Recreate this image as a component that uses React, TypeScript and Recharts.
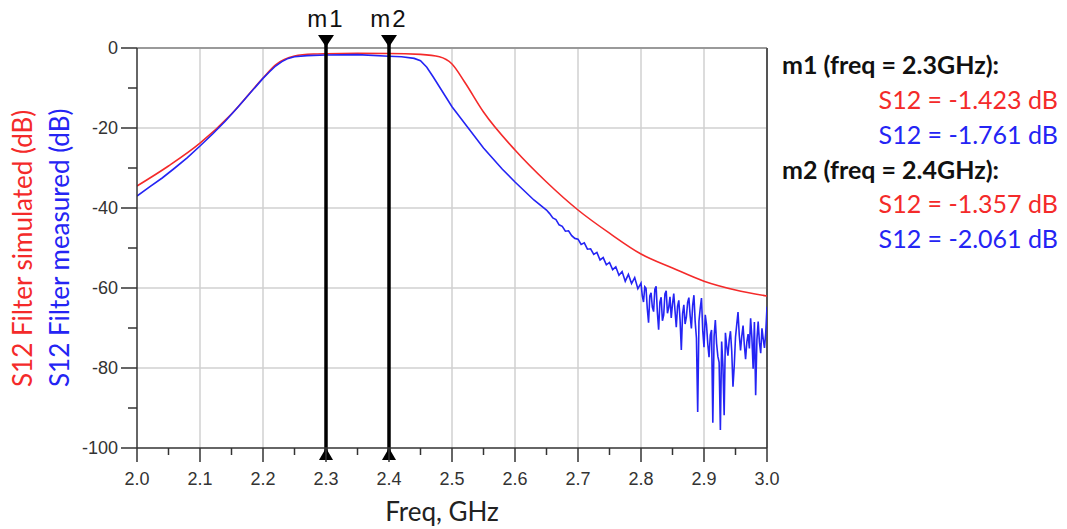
import React from "react";
import { LineChart, Line, XAxis, YAxis, ReferenceLine } from "recharts";

// x ticks every 0.05 GHz, labels only on the 0.1 steps
const freqTicks = [2.0, 2.05, 2.1, 2.15, 2.2, 2.25, 2.3, 2.35, 2.4, 2.45, 2.5, 2.55, 2.6, 2.65, 2.7, 2.75, 2.8, 2.85, 2.9, 2.95, 3.0];
const freqGrid = [2.1, 2.2, 2.3, 2.4, 2.5, 2.6, 2.7, 2.8, 2.9];
const dbTicks = [0, -10, -20, -30, -40, -50, -60, -70, -80, -90, -100];
const dbGrid = [-20, -40, -60, -80];

// simulated S12 (smooth)
const simFreq = [2.0, 2.05, 2.1, 2.15, 2.2, 2.22, 2.25, 2.28, 2.3, 2.35, 2.4, 2.45, 2.48, 2.5, 2.52, 2.55, 2.6, 2.65, 2.7, 2.75, 2.8, 2.85, 2.9, 2.95, 3.0];
const simDb = [-34.5, -29.5, -23.8, -16.5, -7.5, -4.2, -2.0, -1.5, -1.42, -1.35, -1.36, -1.6, -2.2, -4.0, -8.5, -16, -25.5, -33.5, -40.5, -46.3, -51.5, -55, -58.3, -60.5, -62];

// measured S12, pass band and upper skirt
const measFreq = [
  2.0, 2.02, 2.04, 2.06, 2.08, 2.1, 2.12, 2.14, 2.16, 2.18, 2.2, 2.21, 2.22, 2.23, 2.24, 2.25, 2.27, 2.3, 2.35, 2.4,
  2.42, 2.44, 2.45, 2.46, 2.47, 2.48, 2.49, 2.5, 2.52, 2.55, 2.58, 2.6, 2.63, 2.65, 2.655, 2.66, 2.665, 2.67, 2.675,
  2.68, 2.685, 2.69, 2.695, 2.7, 2.705, 2.71, 2.715, 2.72, 2.725, 2.73, 2.735, 2.74, 2.745, 2.75, 2.755, 2.76, 2.765,
  2.77, 2.775, 2.78, 2.785, 2.79, 2.795,
];
const measDb = [
  -37, -34.7, -32.5, -30, -27.4, -24.5, -21.5, -18.3, -14.8, -11.2, -7.6, -6, -4.5, -3.4, -2.6, -2.2, -1.9, -1.76, -1.65, -2.06,
  -2.2, -2.6, -3.2, -4.8, -7.2, -9.7, -12.2, -14.7, -18.8, -25, -30.3, -33.5, -38, -40.5, -41.4, -42.5, -42.9, -44.2, -44.6,
  -45.8, -45.7, -46.9, -47.6, -47.8, -49.1, -48.7, -50.3, -50.2, -51.6, -51.1, -53.0, -52.4, -54.2, -53.6, -55.4, -54.7, -56.8,
  -55.9, -58.3, -56.6, -58.9, -57.4, -60.2,
];

// measured S12, noisy stop band
const noiseFreq = [
  2.8, 2.802, 2.804, 2.806, 2.808, 2.81, 2.812, 2.814, 2.816, 2.818, 2.82, 2.822, 2.824, 2.826, 2.828, 2.83, 2.832, 2.834,
  2.836, 2.838, 2.84, 2.842, 2.844, 2.846, 2.848, 2.85, 2.852, 2.854, 2.856, 2.858, 2.86, 2.862, 2.864, 2.866, 2.868, 2.87,
  2.872, 2.874, 2.876, 2.878, 2.88, 2.882, 2.884, 2.886, 2.888, 2.89, 2.892, 2.894, 2.896, 2.898, 2.9, 2.902, 2.904, 2.906,
  2.908, 2.91, 2.912, 2.914, 2.916, 2.918, 2.92, 2.922, 2.924, 2.926, 2.928, 2.93, 2.932, 2.934, 2.936, 2.938, 2.94, 2.942,
  2.944, 2.946, 2.948, 2.95, 2.952, 2.954, 2.956, 2.958, 2.96, 2.962, 2.964, 2.966, 2.968, 2.97, 2.972, 2.974, 2.976, 2.978,
  2.98, 2.982, 2.984, 2.986, 2.988, 2.99, 2.992, 2.994, 2.996, 2.998, 3.0,
];
const noiseDb = [
  -58.8, -61.9, -63.5, -59.7, -60.1, -65.2, -68.7, -62.0, -61.2, -64.8, -65.9, -60.3, -59.6, -66.1, -70.4, -63.5, -62.3, -68.2,
  -66.8, -61.5, -60.7, -66.3, -64.9, -62.2, -67.5, -64.0, -61.4, -65.7, -69.8, -64.6, -63.1, -67.9, -75.5, -66.4, -64.2, -69.0,
  -67.3, -63.6, -62.4, -66.9, -70.1, -64.3, -61.8, -68.4, -72.5, -91.0, -68.3, -65.1, -62.5, -70.6, -74.8, -66.7, -69.2, -74.0,
  -77.3, -71.8, -70.5, -93.7, -72.1, -68.0, -73.9, -77.1, -78.6, -95.5, -73.4, -79.2, -91.8, -71.2, -74.5, -76.9, -73.0, -70.8,
  -75.7, -84.7, -79.5, -72.3, -69.1, -66.0, -71.8, -75.6, -72.0, -69.4, -74.2, -77.8, -73.5, -71.5, -75.1, -67.6, -72.4, -80.2,
  -68.5, -86.8, -72.9, -68.4, -73.6, -76.3, -70.1, -72.8, -75.0, -71.2, -64.7,
];

const markers = [
  { name: "m1", freq: 2.3, sim: "-1.423", meas: "-1.761" },
  { name: "m2", freq: 2.4, sim: "-1.357", meas: "-2.061" },
];

const RED = "#f42a2a";
const BLUE = "#2424f4";
const TICK_FONT = "'Liberation Sans', Arial, sans-serif";
const LABEL_FONT = "Lato, 'Open Sans', sans-serif";

const toRows = (fs: number[], vs: number[]) => fs.map((f, i) => ({ f, v: vs[i] }));
const simRows = toRows(simFreq, simDb);
const measRows = [...toRows(measFreq, measDb), ...toRows(noiseFreq, noiseDb)];

const FreqTick = (props: any) => {
  const { x, y, payload } = props;
  const v = payload.value;
  const major = Math.round(v * 100) % 10 === 0;
  return (
    <g>
      <line x1={x} x2={x} y1={y} y2={y + (major ? 14 : 7)} stroke="#333" strokeWidth={1.5} />
      {major && (
        <text x={x} y={y + 37} textAnchor="middle" fontSize={18} fill="#333" fontFamily={TICK_FONT}>
          {v.toFixed(1)}
        </text>
      )}
    </g>
  );
};

const DbTick = (props: any) => {
  const { x, y, payload } = props;
  const v = payload.value;
  const major = v % 20 === 0;
  return (
    <g>
      <line x1={x - (major ? 16 : 9)} x2={x} y1={y} y2={y} stroke="#333" strokeWidth={1.5} />
      {major && (
        <text x={x - 19} y={y + 6} textAnchor="end" fontSize={18} fill="#333" fontFamily={TICK_FONT}>
          {v}
        </text>
      )}
    </g>
  );
};

const YTitle = (props: any) => {
  const { viewBox } = props;
  if (!viewBox) return null;
  const yb = viewBox.y + viewBox.height - 61;
  return (
    <g fontFamily={LABEL_FONT} fontSize={26}>
      <text transform={`translate(${viewBox.x + 32},${yb}) rotate(-90)`} fill={RED}>
        S12 Filter simulated (dB)
      </text>
      <text transform={`translate(${viewBox.x + 69},${yb}) rotate(-90)`} fill={BLUE}>
        S12 Filter measured (dB)
      </text>
    </g>
  );
};

const XTitle = (props: any) => {
  const { viewBox } = props;
  if (!viewBox) return null;
  return (
    <text x={viewBox.x + viewBox.width / 2 - 10} y={viewBox.y + 73} textAnchor="middle" fontSize={26} fill="#222" fontFamily={LABEL_FONT}>
      Freq, GHz
    </text>
  );
};

const markerLabel = (name: string) => (props: any) => {
  const { viewBox } = props;
  if (!viewBox) return null;
  const x = viewBox.x;
  const top = viewBox.y;
  const bot = viewBox.y + viewBox.height;
  return (
    <g>
      <line x1={x} x2={x} y1={top - 13} y2={top} stroke="#000" strokeWidth={3.5} />
      <line x1={x} x2={x} y1={bot} y2={bot + 12} stroke="#000" strokeWidth={3.5} />
      <polygon points={`${x - 8},${top - 13} ${x + 8},${top - 13} ${x},${top - 1}`} fill="#000" />
      <polygon points={`${x - 7},${bot + 12} ${x + 7},${bot + 12} ${x},${bot}`} fill="#000" />
      <text x={x} y={top - 21} textAnchor="middle" fontSize={24} letterSpacing={2} fill="#111" fontFamily={TICK_FONT}>
        {name}
      </text>
    </g>
  );
};

export default function App() {
  return (
    <div style={{ position: "absolute", left: 0, top: 0, width: 1067, height: 529, background: "#fff" }}>
      <LineChart width={790} height={529} margin={{ top: 48, right: 23, left: 0, bottom: 0 }}>
        <XAxis
          type="number"
          dataKey="f"
          domain={[2, 3]}
          ticks={freqTicks}
          interval={0}
          allowDataOverflow
          height={81}
          tickSize={0}
          tickMargin={0}
          tickLine={false}
          tick={<FreqTick />}
          axisLine={{ stroke: "#333", strokeWidth: 1.5 }}
          label={<XTitle />}
        />
        <YAxis
          type="number"
          dataKey="v"
          domain={[-100, 0]}
          ticks={dbTicks}
          interval={0}
          allowDataOverflow
          width={137}
          tickSize={0}
          tickMargin={0}
          tickLine={false}
          tick={<DbTick />}
          axisLine={{ stroke: "#333", strokeWidth: 1.5 }}
          label={<YTitle />}
        />
        {freqGrid.map((v) => (
          <ReferenceLine key={`gx${v}`} x={v} stroke="#d0d0d0" strokeWidth={1.5} />
        ))}
        {dbGrid.map((v) => (
          <ReferenceLine key={`gy${v}`} y={v} stroke="#d0d0d0" strokeWidth={1.5} />
        ))}
        <ReferenceLine y={0} stroke="#9a9a9a" strokeWidth={2} />
        <ReferenceLine x={3} stroke="#555" strokeWidth={2} />
        <Line data={simRows} dataKey="v" type="monotone" stroke={RED} strokeWidth={1.6} dot={false} isAnimationActive={false} />
        <Line data={measRows} dataKey="v" type="linear" stroke={BLUE} strokeWidth={1.6} dot={false} isAnimationActive={false} />
        {markers.map((m) => (
          <ReferenceLine key={m.name} x={m.freq} stroke="#000" strokeWidth={3.5} label={markerLabel(m.name)} />
        ))}
      </LineChart>
      <svg width={1067} height={529} style={{ position: "absolute", left: 0, top: 0, pointerEvents: "none" }}>
        <g fontFamily={LABEL_FONT}>
          {markers.map((m, i) => (
            <g key={m.name}>
              <text x={782} y={74 + i * 105} fontSize={25} fontWeight="bold" fill="#111">
                {`${m.name} (freq = ${m.freq.toFixed(1)}GHz):`}
              </text>
              <text x={1058} y={109 + i * 104} fontSize={25} textAnchor="end" fill={RED}>
                {`S12 = ${m.sim} dB`}
              </text>
              <text x={1058} y={144 + i * 104} fontSize={25} textAnchor="end" fill={BLUE}>
                {`S12 = ${m.meas} dB`}
              </text>
            </g>
          ))}
        </g>
      </svg>
    </div>
  );
}
